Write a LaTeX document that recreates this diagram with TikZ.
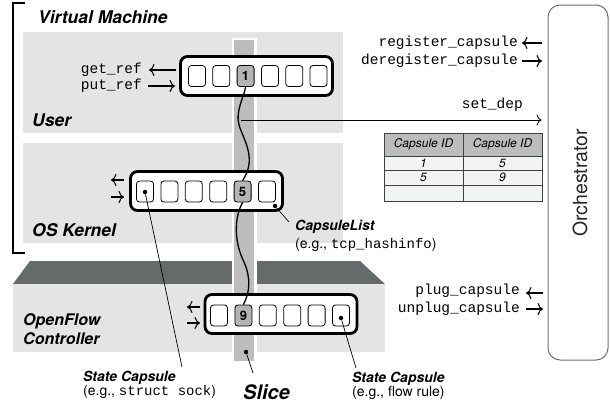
\documentclass[tikz,border=0pt]{standalone}
\usepackage{fontspec}
\setmainfont{TeX Gyre Heros}
\setsansfont{TeX Gyre Heros}
\setmonofont{Liberation Mono}
\usetikzlibrary{arrows.meta}
\definecolor{panelgray}{HTML}{E4E4E4}
\definecolor{stripgray}{HTML}{BDBDBD}
\definecolor{darkface}{HTML}{646B6A}
\definecolor{hlcell}{HTML}{B4B4B4}
\definecolor{tablehead}{HTML}{BCBCBC}
\definecolor{tablerow}{HTML}{F2F4F4}
\definecolor{orchline}{HTML}{707070}
\begin{document}
\begin{tikzpicture}[x=1pt,y=-1pt,
  tipline/.style={-{Computer Modern Rightarrow[length=5.5pt,width=12pt,line width=1.1pt]}, line width=1.1pt},
  clist/.style={draw, line width=2.8pt, rounded corners=7pt, fill=white, minimum width=152pt, minimum height=39pt, inner sep=0pt},
  cell/.style={draw, line width=0.8pt, rounded corners=3pt, fill=white, minimum width=17pt, minimum height=21pt, inner sep=0pt},
  hcell/.style={cell, fill=hlcell, font=\fontsize{13}{13}\selectfont\bfseries},
  dot/.style={circle, fill=black, inner sep=0pt, minimum size=4.5pt},
  bigl/.style={font=\fontsize{17.5}{20}\selectfont\bfseries\itshape, inner sep=0pt, anchor=west},
  midl/.style={font=\fontsize{14}{16}\selectfont\bfseries\itshape, inner sep=0pt, anchor=west},
  small/.style={font=\fontsize{14}{16}\selectfont, inner sep=0pt, anchor=west},
  mono/.style={font=\fontsize{14.5}{16}\selectfont\ttfamily, inner sep=0pt, anchor=east},
  thcell/.style={draw=black!75, line width=0.6pt, fill=tablehead, minimum width=79pt, minimum height=23pt, inner sep=0pt, font=\fontsize{12}{12}\selectfont\itshape},
  tdcell/.style={draw=black!75, line width=0.6pt, fill=tablerow, minimum width=79pt, inner sep=0pt, font=\fontsize{12}{12}\selectfont\itshape},
  leader/.style={line width=0.7pt}
]
\useasboundingbox (0,0) rectangle (610,408);

% Virtual machine bracket
\draw[line width=1.4pt] (25,3) -- (13,3) -- (13,253) -- (25,253);
\node[bigl] (vm) at (38,17) {Virtual Machine};

% panels
\fill[panelgray] (23,32) rectangle (343,133);
\fill[panelgray] (23,143) rectangle (343,243);
\fill[darkface] (13,284) -- (30,261) -- (360,261) -- (385,284) -- cycle;
\fill[panelgray] (13,284) rectangle (385,352);

% slice strip
\fill[white] (231.5,37.5) rectangle (256.5,363);
\fill[stripgray] (234,40) rectangle (254,361);

\node[bigl] (user) at (32,120) {User};
\node[bigl] (kern) at (32,230) {OS Kernel};
\node[font=\fontsize{16}{19}\selectfont\bfseries\itshape, inner sep=0pt, anchor=west, align=left] (ofc) at (23,329.5) {OpenFlow\\Controller};

% capsule lists
\node[clist] (L1) at (256.5,76) {};
\node[clist] (L2) at (206.5,191) {};
\node[clist] (L3) at (281,314) {};

\foreach \i/\x in {1/197,2/221.3,4/270,5/294.2,6/318.5}
  \node[cell] (a\i) at (\x,76) {};
\node[hcell] (a3) at (245.6,76) {1};

\foreach \i/\x in {1/145,2/169.4,3/193.8,4/218.2,6/267}
  \node[cell] (b\i) at (\x,191.5) {};
\node[hcell] (b5) at (242.6,191.5) {5};

\foreach \i/\x in {1/219,3/267.8,4/292.2,5/316.6,6/341}
  \node[cell] (c\i) at (\x,315.5) {};
\node[hcell] (c2) at (243.4,315.5) {9};

% dependency curve
\draw[line width=1.3pt] (a3.south) .. controls (244,98) and (234,112) .. (240,128)
   .. controls (246,144) and (256,160) .. (b5.north);
\draw[line width=1.3pt] (b5.south) .. controls (234,218) and (234,242) .. (244,262)
   .. controls (251,278) and (250,292) .. (c2.north);

% set_dep
\node[small, font=\fontsize{14.5}{16}\selectfont\ttfamily, anchor=east] (sdl) at (523,105) {set\_dep};
\coordinate (sd0) at (241,120);

% orchestrator
\node[draw=orchline, line width=1pt, rounded corners=12pt, minimum width=60pt, minimum height=355pt, inner sep=0pt] (orch) at (578,182.5) {};
\node[rotate=90, font=\fontsize{19.5}{19.5}\selectfont, text=black!85, inner sep=0pt] (orcht) at (580,183) {Orchestrator};

\draw[line width=0.8pt, -{Computer Modern Rightarrow[length=5pt,width=11pt,line width=0.8pt]}] (sd0) -- ([xshift=-6pt]orch.west |- sd0);

% table
\node[thcell] (h1) at (423.5,144.5) {Capsule ID};
\node[thcell] (h2) at (502.5,144.5) {Capsule ID};
\node[tdcell, minimum height=14pt] (r11) at (423.5,163) {1};
\node[tdcell, minimum height=14pt] (r12) at (502.5,163) {5};
\node[tdcell, minimum height=15pt] (r21) at (423.5,177.5) {5};
\node[tdcell, minimum height=15pt] (r22) at (502.5,177.5) {9};
\node[tdcell, minimum height=16pt] (r31) at (423.5,193) {};
\node[tdcell, minimum height=16pt] (r32) at (502.5,193) {};

% register / deregister
\node[mono] (reg) at (518,43) {register\_capsule};
\node[mono] (dereg) at (518,61) {deregister\_capsule};
\coordinate (ra) at (542,43);
\coordinate (rb) at (522,43);
\coordinate (rc) at (522,61);
\coordinate (rd) at (542,61);
\draw[tipline] (ra) -- (rb);
\draw[tipline] (rc) -- (rd);

% plug / unplug
\node[mono] (plug) at (520,291) {plug\_capsule};
\node[mono] (unplug) at (520,309) {unplug\_capsule};
\coordinate (pa) at (543,293);
\coordinate (pb) at (526,293);
\coordinate (pc) at (526,309);
\coordinate (pd) at (543,309);
\draw[tipline] (pa) -- (pb);
\draw[tipline] (pc) -- (pd);

% get_ref / put_ref
\node[mono] (get) at (142,70) {get\_ref};
\node[mono] (put) at (142,86) {put\_ref};
\coordinate (ga) at (176,70);
\coordinate (gb) at (149,70);
\coordinate (gc) at (148,86);
\coordinate (gd) at (175,86);
\draw[tipline] (ga) -- (gb);
\draw[tipline] (gc) -- (gd);

% kernel arrows
\coordinate (ka) at (124,180);
\coordinate (kb) at (111,180);
\coordinate (kc) at (111,197);
\coordinate (kd) at (124,197);
\draw[tipline] (ka) -- (kb);
\draw[tipline] (kc) -- (kd);

% openflow arrows
\coordinate (oa) at (200,307);
\coordinate (ob) at (187,307);
\coordinate (oc) at (187,323);
\coordinate (od) at (200,323);
\draw[tipline] (oa) -- (ob);
\draw[tipline] (oc) -- (od);

% callouts
\node[dot] (d1) at (145,192) {};
\coordinate (e1) at (182,367);
\draw[leader] (d1) -- (e1);
\node[midl] (sc1) at (83,378) {State Capsule};
\node[small] (sc1e) at (83,392) {(e.g., \texttt{struct sock})};

\node[dot] (d2) at (275,206) {};
\coordinate (e2) at (289,222);
\draw[leader] (d2) -- (e2);
\node[midl] (cl) at (295,227) {CapsuleList};
\node[small] (cle) at (295,245) {(e.g., \texttt{tcp\_hashinfo})};

\node[dot] (d3) at (341,318) {};
\coordinate (e3) at (356,368);
\draw[leader] (d3) -- (e3);
\node[midl] (sc2) at (352,379) {State Capsule};
\node[small] (sc2e) at (352,393) {(e.g., flow rule)};

\node[dot] (d4) at (246,352) {};
\coordinate (e4) at (253,373);
\draw[leader] (d4) -- (e4);
\node[font=\fontsize{20}{20}\selectfont\bfseries\itshape, inner sep=0pt, anchor=west] (slice) at (243,392) {Slice};
\end{tikzpicture}
\end{document}
